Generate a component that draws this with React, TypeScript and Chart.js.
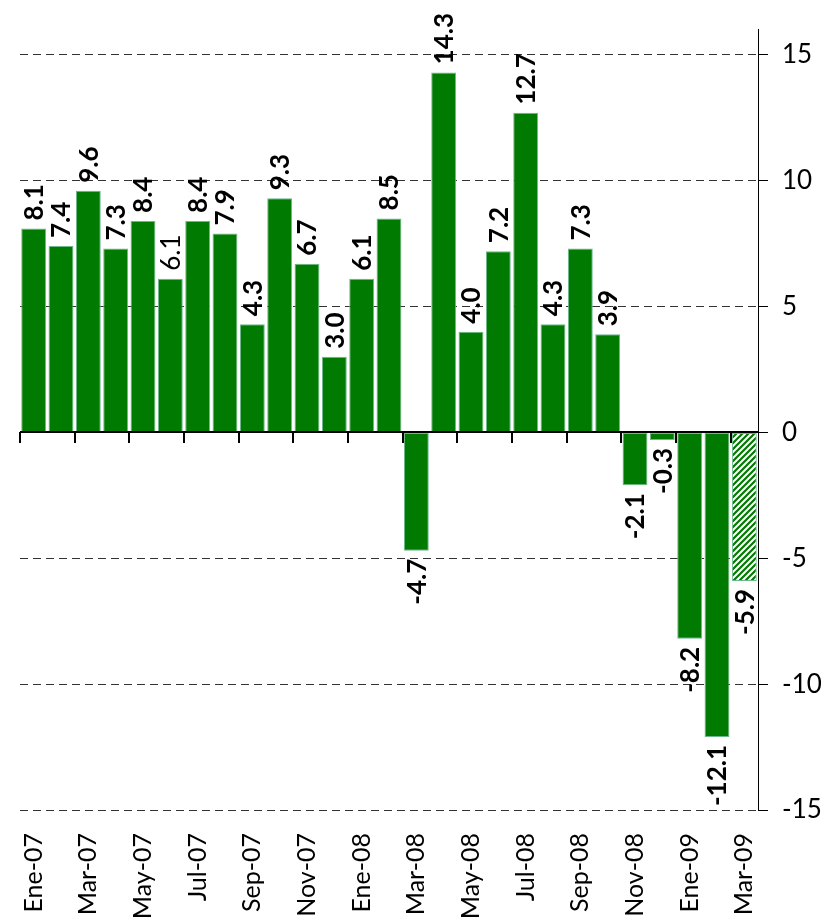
import React, { useEffect, useRef } from 'react';
import { Chart, registerables } from 'chart.js';

Chart.register(...registerables);

const categories = [
  'Ene-07', 'Feb-07', 'Mar-07', 'Abr-07', 'May-07', 'Jun-07', 'Jul-07', 'Ago-07', 'Sep-07',
  'Oct-07', 'Nov-07', 'Dic-07', 'Ene-08', 'Feb-08', 'Mar-08', 'Abr-08', 'May-08', 'Jun-08',
  'Jul-08', 'Ago-08', 'Sep-08', 'Oct-08', 'Nov-08', 'Dic-08', 'Ene-09', 'Feb-09', 'Mar-09',
];
const values = [
  8.1, 7.4, 9.6, 7.3, 8.4, 6.1, 8.4, 7.9, 4.3, 9.3, 6.7, 3.0, 6.1, 8.5, -4.7, 14.3, 4.0, 7.2,
  12.7, 4.3, 7.3, 3.9, -2.1, -0.3, -8.2, -12.1, -5.9,
];
const yTicks = [-15, -10, -5, 0, 5, 10, 15];
const yMin = -15;
const yMax = 16;
const hatchedIndex = [26];
const plainLabelIndex = [5];

const FONT = 'Lato, "Open Sans", sans-serif';
const GREEN = '#007A00';
const EDGE = '#6cb88c';

function makeHatch(): CanvasPattern | string {
  const s = 6;
  const c = document.createElement('canvas');
  c.width = s;
  c.height = s;
  const g = c.getContext('2d');
  if (!g) return GREEN;
  g.fillStyle = '#ffffff';
  g.fillRect(0, 0, s, s);
  g.strokeStyle = GREEN;
  g.lineWidth = 2.2;
  g.beginPath();
  for (const k of [-s, 0, s]) {
    g.moveTo(k - 1, s + 1);
    g.lineTo(k + s + 1, -1);
  }
  g.stroke();
  const p = g.createPattern(c, 'repeat');
  return p || GREEN;
}

const labelPlugin = {
  id: 'barLabels',
  afterDatasetsDraw(chart: any) {
    const ctx: CanvasRenderingContext2D = chart.ctx;
    const meta = chart.getDatasetMeta(0);
    const gap = 8;
    const size = 26;
    meta.data.forEach((bar: any, i: number) => {
      const v = values[i];
      const text = v.toFixed(1);
      ctx.save();
      ctx.font = `${plainLabelIndex.includes(i) ? 'normal' : 'bold'} ${size}px ${FONT}`;
      ctx.textAlign = 'left';
      ctx.textBaseline = 'alphabetic';
      ctx.fillStyle = '#000';
      const w = ctx.measureText(text).width;
      // rotated 90° counter-clockwise: text reads bottom-to-top
      const startY = v >= 0 ? bar.y - gap : bar.y + gap + w;
      ctx.setTransform(0, -1, 1, 0, bar.x, startY);
      ctx.fillText(text, 0, size * 0.36);
      ctx.restore();
    });
  },
};

const zeroAxisPlugin = {
  id: 'zeroAxis',
  afterDatasetsDraw(chart: any) {
    const { ctx, chartArea, scales } = chart;
    const x = scales.x;
    const y = scales.y;
    const y0 = Math.round(y.getPixelForValue(0));
    const step = (chartArea.right - chartArea.left) / categories.length;
    ctx.save();
    ctx.strokeStyle = '#000';
    ctx.lineWidth = 2;
    ctx.beginPath();
    ctx.moveTo(chartArea.left, y0);
    ctx.lineTo(chartArea.right, y0);
    for (let i = 0; i < categories.length; i += 2) {
      const px = Math.round(x.getPixelForValue(i) - step / 2);
      ctx.moveTo(px, y0);
      ctx.lineTo(px, y0 + 11);
    }
    ctx.stroke();
    ctx.restore();
  },
};

export default function App() {
  const ref = useRef<HTMLCanvasElement | null>(null);

  useEffect(() => {
    if (!ref.current) return;
    const hatch = makeHatch();
    const bg = values.map((_, i) => (hatchedIndex.includes(i) ? hatch : GREEN));
    const chart = new Chart(ref.current, {
      type: 'bar',
      data: {
        labels: categories,
        datasets: [
          {
            data: values,
            backgroundColor: bg as any,
            borderColor: EDGE,
            borderWidth: 1,
            borderSkipped: false,
            categoryPercentage: 1,
            barPercentage: 0.91,
          },
        ],
      },
      options: {
        responsive: false,
        animation: false,
        devicePixelRatio: 1,
        layout: { padding: { left: 20, top: 27, right: 0, bottom: 0 } },
        plugins: { legend: { display: false }, tooltip: { enabled: false } },
        scales: {
          x: {
            position: 'bottom',
            grid: { display: false, drawTicks: false },
            border: { display: false },
            ticks: {
              autoSkip: false,
              minRotation: 90,
              maxRotation: 90,
              padding: 23,
              color: '#000',
              font: { family: FONT, size: 25 },
              callback: (_v: any, i: number) => (i % 2 === 0 ? categories[i] : ''),
            },
            afterFit: (s: any) => {
              s.height = 110;
            },
          },
          y: {
            position: 'right',
            min: yMin,
            max: yMax,
            afterBuildTicks: (s: any) => {
              s.ticks = yTicks.map((v) => ({ value: v }));
            },
            grid: {
              color: (c: any) => (c.tick && c.tick.value === 0 ? 'rgba(0,0,0,0)' : '#333'),
              lineWidth: 1,
              tickLength: 10,
              tickColor: '#000',
              tickWidth: 1,
            },
            border: { display: true, color: '#000', width: 1, dash: [8, 5] },
            ticks: {
              padding: 14,
              color: '#000',
              font: { family: FONT, size: 26 },
              callback: (v: any) => String(v),
            },
            afterFit: (s: any) => {
              s.width = 78;
            },
          },
        },
      },
      plugins: [labelPlugin, zeroAxisPlugin],
    });
    let alive = true;
    if ((document as any).fonts && (document as any).fonts.ready) {
      (document as any).fonts.ready.then(() => {
        if (alive) chart.update();
      });
    }
    return () => {
      alive = false;
      chart.destroy();
    };
  }, []);

  return (
    <div style={{ position: 'absolute', left: 0, top: 0, width: 836, height: 920, background: '#fff' }}>
      <canvas ref={ref} width={836} height={920} style={{ display: 'block' }} />
    </div>
  );
}
